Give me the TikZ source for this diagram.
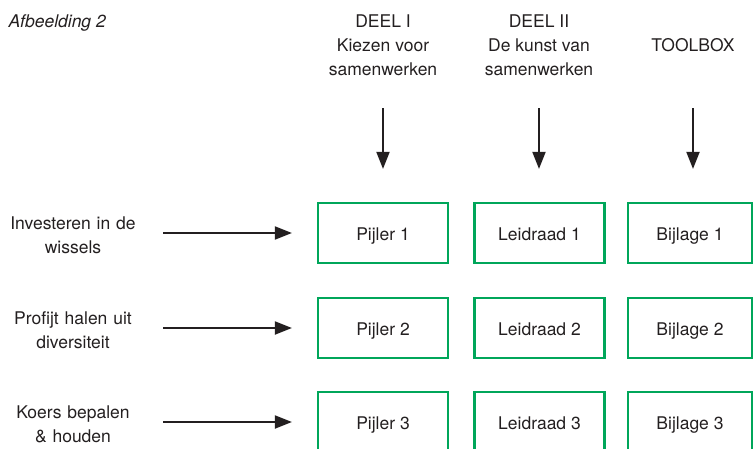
\documentclass[tikz,border=0pt]{standalone}
\usepackage{fontspec}
\setmainfont{TeX Gyre Heros}
\usetikzlibrary{arrows.meta}
\definecolor{vakgroen}{RGB}{0,166,90}
\definecolor{tekst}{RGB}{35,31,32}
\tikzset{
  vak/.style={draw=vakgroen,line width=2.2pt,minimum width=130pt,minimum height=60pt,inner sep=0pt,text height=14pt,text depth=0pt},
  kop/.style={align=center,minimum height=68pt,inner sep=0pt},
  thema/.style={align=center,text width=128pt,inner sep=0pt},
  pijl/.style={line width=2pt,draw=tekst,->}
}
\begin{document}
\begin{tikzpicture}[x=1pt,y=-1pt,>={Triangle[length=17pt,width=13pt]},font=\fontsize{17.5}{24}\selectfont,text=tekst]
\useasboundingbox (0,0) rectangle (753,448);
\node[anchor=base west,font=\fontsize{17.5}{24}\selectfont\itshape] (titel) at (5,27) {Afbeelding 2};
% kolomkoppen
\node[kop] (deel1) at (383,45) {DEEL I\\Kiezen voor\\samenwerken};
\node[kop] (deel2) at (539,45) {DEEL II\\De kunst van\\samenwerken};
\node[kop] (toolbox) at (693,45) {TOOLBOX};
% vakken
\node[vak] (p1) at (383,233) {Pijler 1};
\node[vak] (p2) at (383,328) {Pijler 2};
\node[vak] (p3) at (383,422) {Pijler 3};
\node[vak] (l1) at (539.5,233) {Leidraad 1};
\node[vak] (l2) at (539.5,328) {Leidraad 2};
\node[vak] (l3) at (539.5,422) {Leidraad 3};
\node[vak,minimum width=124pt] (b1) at (690,233) {Bijlage 1};
\node[vak,minimum width=124pt] (b2) at (690,328) {Bijlage 2};
\node[vak,minimum width=124pt] (b3) at (690,422) {Bijlage 3};
% thema's links
\node[thema] (t1) at (73,235) {Investeren in de\\wissels};
\node[thema] (t2) at (73,330) {Profijt halen uit\\diversiteit};
\node[thema] (t3) at (73,424) {Koers bepalen\\\&~houden};
% pijlen
\draw[pijl,shorten <=29pt,shorten >=33pt] (deel1.south) -- (p1.north);
\draw[pijl,shorten <=29pt,shorten >=33pt] (deel2.south) -- (deel2.south |- l1.north);
\draw[pijl,shorten <=29pt,shorten >=33pt] (toolbox.south) -- (toolbox.south |- b1.north);
\draw[pijl,shorten <=26pt,shorten >=25pt] (t1.east |- p1.west) -- (p1.west);
\draw[pijl,shorten <=26pt,shorten >=25pt] (t2.east |- p2.west) -- (p2.west);
\draw[pijl,shorten <=26pt,shorten >=25pt] (t3.east |- p3.west) -- (p3.west);
\end{tikzpicture}
\end{document}
